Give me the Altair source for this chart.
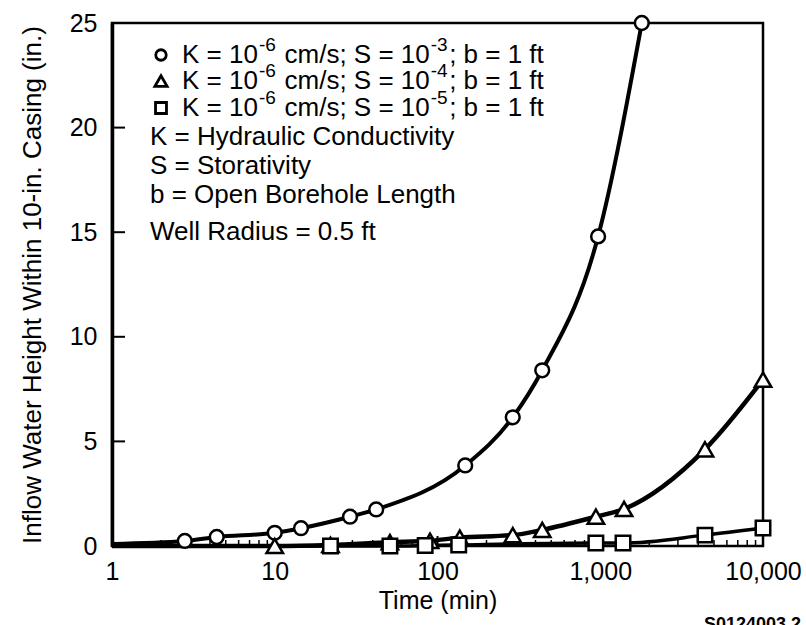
import altair as alt
import pandas as pd

# ---- data ----
circ_t = [2.8, 4.4, 10, 14.5, 29, 42, 148, 290, 440, 970, 1800]
circ_v = [0.24, 0.43, 0.63, 0.85, 1.4, 1.75, 3.85, 6.15, 8.4, 14.8, 25]
circ_start = [1, 0.1]

tri_t = [10, 22, 51, 90, 137, 290, 440, 940, 1400, 4400, 10000]
tri_v = [0.0, 0.05, 0.18, 0.25, 0.4, 0.52, 0.77, 1.4, 1.77, 4.62, 7.95]
tri_start = [1, 0.0]

sq_t = [22, 51, 84, 135, 940, 1380, 4400, 10000]
sq_v = [0.0, 0.0, 0.02, 0.05, 0.14, 0.14, 0.52, 0.86]
sq_start = [1, 0.0]

x_ticks = [1, 10, 100, 1000, 10000]
x_minor = [m * d for d in [1, 10, 100, 1000] for m in range(2, 10)]
y_ticks = [0, 5, 10, 15, 20, 25]

# legend lines as (text, is_superscript, space_before) segments
s_exponents = ["-3", "-4", "-5"]
legend_lines = [
    [("K = 10", False, False), ("-6", True, False), ("cm/s; S = 10", False, True),
     (e, True, False), ("; b = 1 ft", False, False)]
    for e in s_exponents
]
notes = [
    "K = Hydraulic Conductivity",
    "S = Storativity",
    "b = Open Borehole Length",
    "Well Radius = 0.5 ft",
]
shapes = ["circle", "triangle-up", "square"]

FONT = "Liberation Sans"
W, H = 651, 523
BASE_FS, SUP_FS = 26, 19

# Arial / Liberation Sans advance widths (per 1000 em) used to place text segments
ADV = {" ": 278, "K": 667, "=": 584, "c": 500, "m": 833, "/": 278, "s": 500,
       ";": 278, "S": 667, "b": 556, "f": 278, "t": 278, "-": 333}
for d in "0123456789":
    ADV[d] = 556


def text_width(s, size):
    return sum(ADV.get(ch, 556) for ch in s) * size / 1000.0


x_scale = alt.Scale(type="log", domain=[1, 10000], nice=False)
y_scale = alt.Scale(domain=[0, 25], nice=False)

X_ENC = alt.X(
    "t:Q", scale=x_scale,
    axis=alt.Axis(values=x_ticks, format=",", ticks=False, grid=False, domain=False,
                  labelFontSize=25, labelFont=FONT, labelColor="black", labelPadding=13,
                  labelFlush=False, labelOverlap=False,
                  title="Time (min)", titleFont=FONT, titleFontSize=25,
                  titleFontWeight="normal", titleColor="black", titlePadding=4),
)
Y_ENC = alt.Y(
    "v:Q", scale=y_scale,
    axis=alt.Axis(values=y_ticks, ticks=False, grid=False, domain=True,
                  domainColor="black", domainWidth=3.5,
                  labelFontSize=25, labelFont=FONT, labelColor="black", labelPadding=15,
                  title="Inflow Water Height Within 10-in.  Casing (in.)",
                  titleFont=FONT, titleFontSize=26, titleFontWeight="normal",
                  titleColor="black", titleX=-80, titleY=H / 2, titleBaseline="middle"),
)

series = [
    ("c", circ_t, circ_v, circ_start, "circle", 190, 4),
    ("t", tri_t, tri_v, tri_start, "triangle-up", 270, 4.5),
    ("s", sq_t, sq_v, sq_start, "square", 210, 3.5),
]

layers = []

# inward tick marks
layers.append(
    alt.Chart(pd.DataFrame({"t": x_minor})).mark_rule(color="black", strokeWidth=1.5)
    .encode(x=X_ENC, y=alt.value(H), y2=alt.value(H - 6))
)
layers.append(
    alt.Chart(pd.DataFrame({"t": x_ticks})).mark_rule(color="black", strokeWidth=2)
    .encode(x=X_ENC, y=alt.value(H), y2=alt.value(H - 10))
)
layers.append(
    alt.Chart(pd.DataFrame({"v": y_ticks})).mark_rule(color="black", strokeWidth=2)
    .encode(y=Y_ENC, x=alt.value(0), x2=alt.value(13))
)

for name, ts, vs, start, shape, size, lw in series:
    line_df = pd.DataFrame({"t": [start[0]] + ts, "v": [start[1]] + vs})
    layers.append(
        alt.Chart(line_df).mark_line(interpolate="monotone", color="black", strokeWidth=lw)
        .encode(x=X_ENC, y=Y_ENC)
    )
for name, ts, vs, start, shape, size, lw in series:
    pt_df = pd.DataFrame({"t": ts, "v": vs})
    layers.append(
        alt.Chart(pt_df).mark_point(shape=shape, filled=True, fill="white", stroke="black",
                                    strokeWidth=2.5, size=size, opacity=1)
        .encode(x=X_ENC, y=Y_ENC)
    )

# legend block
one = pd.DataFrame({"a": [0]})
leg_rows = [32, 58, 85]
leg_sizes = [110, 150, 120]
for i, (segs, shp) in enumerate(zip(legend_lines, shapes)):
    layers.append(
        alt.Chart(one).mark_point(shape=shp, filled=True, fill="white", stroke="black",
                                  strokeWidth=2.8, size=leg_sizes[i], opacity=1)
        .encode(x=alt.value(49), y=alt.value(leg_rows[i]))
    )
    xpos = 70.0
    for txt, sup, space_before in segs:
        fs = SUP_FS if sup else BASE_FS
        if space_before:
            xpos += text_width(" ", BASE_FS)
        layers.append(
            alt.Chart(one).mark_text(text=txt, align="left", baseline="middle", font=FONT,
                                     fontSize=fs, color="black", dy=-10 if sup else 0)
            .encode(x=alt.value(xpos), y=alt.value(leg_rows[i]))
        )
        xpos += text_width(txt, fs) + (1.5 if sup else 1.0)

note_rows = [114, 143, 172, 209]
for lbl, yy in zip(notes, note_rows):
    layers.append(
        alt.Chart(one).mark_text(text=lbl, align="left", baseline="middle", font=FONT,
                                 fontSize=BASE_FS, color="black")
        .encode(x=alt.value(38), y=alt.value(yy))
    )

# figure id at bottom right (cut off in the reference)
layers.append(
    alt.Chart(one).mark_text(text="S0124003.2", align="left", baseline="top", font=FONT,
                             fontSize=18, fontWeight="bold", color="black")
    .encode(x=alt.value(592), y=alt.value(593))
)

chart = (
    alt.layer(*layers)
    .properties(width=W, height=H, autosize=alt.AutoSizeParams(type="none"),
                padding={"left": 112, "top": 23, "right": 43, "bottom": 79},
                background="white")
    .configure_view(stroke="black", strokeWidth=2.5)
)

chart.save("out.html", embed_options={"renderer": "svg", "actions": False})
